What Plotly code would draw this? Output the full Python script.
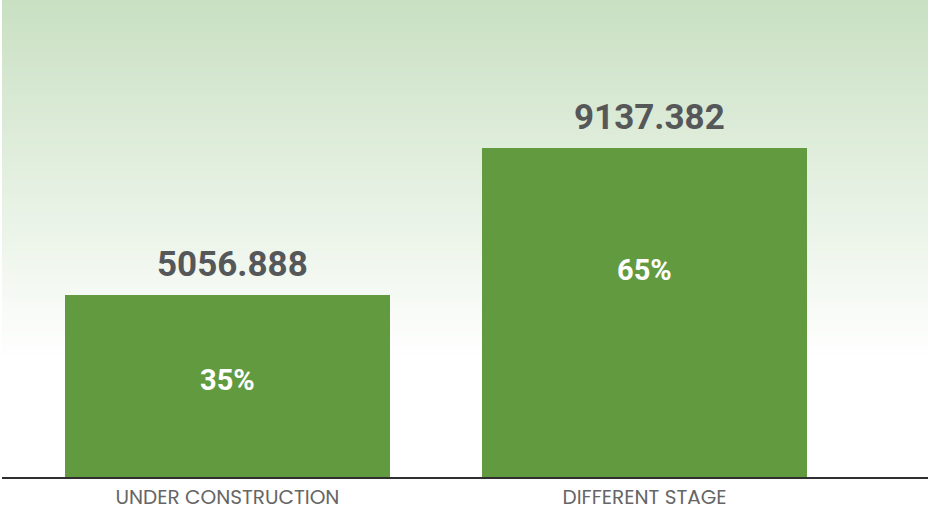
import plotly.graph_objects as go

categories = ["UNDER CONSTRUCTION", "DIFFERENT STAGE"]
values = [5056.888, 9137.382]
pct_labels = ["35%", "65%"]
value_labels = ["5056.888", "9137.382"]

# ---- styling ----
W, H = 930, 510
BAR_COLOR = "#629a40"
TOP = (201, 224, 194)
px_per_unit = 182 / 5056.888
plot_h = 477
ymax = plot_h / px_per_unit
x_pos = [0, 1]
pct_frac = [0.533, 0.63]

fig = go.Figure()
fig.add_trace(go.Bar(
    x=x_pos, y=values, width=0.779, marker=dict(color=BAR_COLOR, line=dict(width=0)),
    hoverinfo="skip", showlegend=False,
))

annotations = []
for xv, v, lab, p, f in zip(x_pos, values, value_labels, pct_labels, pct_frac):
    annotations.append(dict(x=xv, y=v, xref="x", yref="y", text=lab, showarrow=False,
                            yanchor="bottom", yshift=8, xshift=5,
                            font=dict(family="Roboto", size=35, color="#555759", weight="bold")))
    annotations.append(dict(x=xv, y=v * f, xref="x", yref="y", text=p, showarrow=False,
                            yanchor="middle",
                            font=dict(family="Roboto", size=29, color="white", weight="bold")))

# gradient background strips
shapes = []
N = 80
grad_end = 1 - 360 / plot_h
for i in range(N):
    t0 = i / N
    t1 = (i + 1) / N
    y1 = 1 - t0 * (1 - grad_end)
    y0 = 1 - t1 * (1 - grad_end)
    tt = (t0 + t1) / 2
    c = tuple(round(a + (255 - a) * tt) for a in TOP)
    shapes.append(dict(type="rect", xref="paper", yref="paper", x0=0, x1=1, y0=y0, y1=y1 + 0.001,
                       fillcolor="rgb(%d,%d,%d)" % c, line=dict(width=0), layer="below"))

fig.update_layout(
    width=W, height=H,
    margin=dict(l=2, r=2, t=0, b=33),
    paper_bgcolor="white", plot_bgcolor="rgba(0,0,0,0)",
    shapes=shapes, annotations=annotations,
    bargap=0,
    xaxis=dict(range=[-225.5 / 417, 700.5 / 417], tickvals=x_pos, ticktext=categories,
               showgrid=False, zeroline=False, showline=True, linecolor="#2f2f2f", linewidth=2,
               ticks="", ticklabelstandoff=1, automargin=False,
               tickfont=dict(family="Poppins, Noto Sans", size=20, color="#666666"),
               fixedrange=True),
    yaxis=dict(range=[0, ymax], visible=False, showgrid=False, zeroline=False, fixedrange=True,
               automargin=False),
)

fig.write_html("out.html", config={"displayModeBar": False},
               post_script="document.body.style.margin='0';")
